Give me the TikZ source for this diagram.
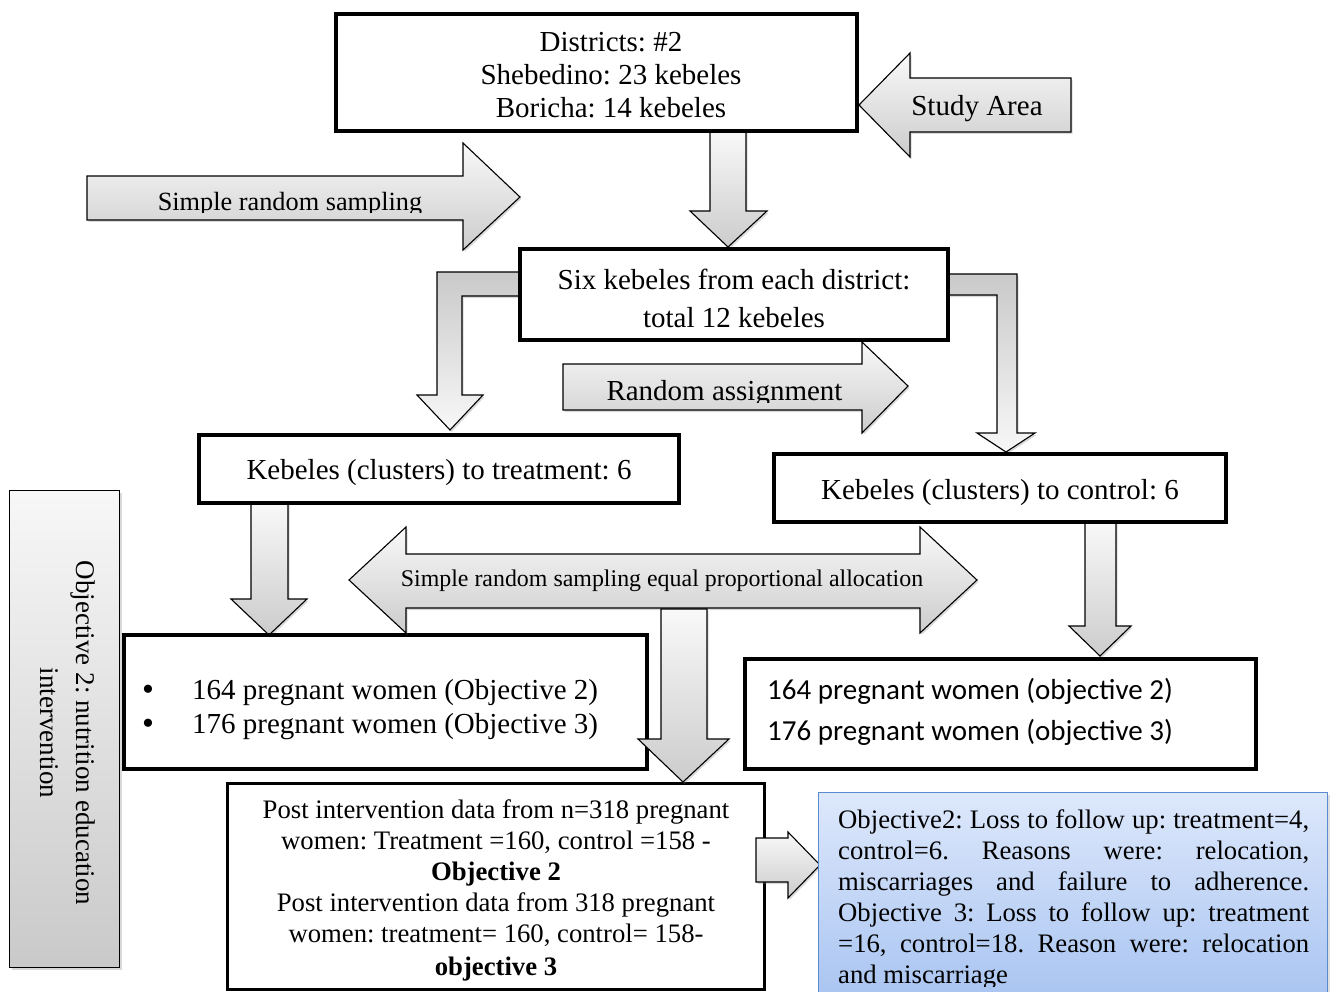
\documentclass[tikz,border=0pt]{standalone}
\usepackage{fontspec}
\setmainfont{Liberation Serif}
\newfontfamily\carlitofont{Carlito}
\usetikzlibrary{shadows}
\definecolor{bluetop}{HTML}{DDE8FB}
\definecolor{bluebot}{HTML}{A7C3F1}
\definecolor{blueedge}{HTML}{5A8AD0}
\frenchspacing
\begin{document}
\frenchspacing
\begin{tikzpicture}[x=1pt,y=-1pt,
  garrow/.style={draw=black, line width=1.1pt, line join=miter, top color=gray!5, bottom color=gray!40,
     drop shadow={shadow xshift=1.5pt, shadow yshift=-2pt, opacity=0.3}},
  garrowr/.style={garrow, top color=gray!42, bottom color=gray!6},
  box/.style={draw=black, line width=4pt, fill=white, inner sep=0pt},
  txt/.style={inner sep=0pt, font=\fontsize{29}{33}\selectfont},
  stxt/.style={inner sep=0pt, font=\fontsize{26.7}{31}\selectfont}
]
\useasboundingbox (0,0) rectangle (1330,992);
\clip (0,0) rectangle (1330,992);

% ---------- block arrows (under the boxes) ----------
% Study Area
\path[garrow] (859,105) -- (910,53) -- (910,78) -- (1071,78) -- (1071,132) -- (910,132) -- (910,157) -- cycle;
\node[txt, anchor=base] (study) at (977,116) {Study Area};
% Simple random sampling
\path[garrow] (87,176) -- (463,176) -- (463,143) -- (520,197) -- (463,250) -- (463,220) -- (87,220) -- cycle;
\begin{scope}
  \clip (87,176) rectangle (463,213);
  \node[txt, font=\fontsize{26.3}{30}\selectfont, anchor=base] (srs) at (290,211) {Simple random sampling};
\end{scope}
% districts -> six kebeles
\path[garrow] (710,131) -- (746,131) -- (746,211) -- (767,211) -- (728,247) -- (690,211) -- (710,211) -- cycle;
% six -> treatment (bent)
\path[garrowr] (520,272) -- (437,272) -- (437,395) -- (417,395) -- (450,430) -- (483,395) -- (462,395) -- (462,296) -- (520,296) -- cycle;
% six -> control (bent)
\path[garrowr] (948,274) -- (1017,274) -- (1017,433) -- (1035,433) -- (1006,452) -- (977,433) -- (997,433) -- (997,295) -- (948,295) -- cycle;
% Random assignment
\path[garrow] (563,364) -- (862,364) -- (862,342) -- (908,386) -- (862,433) -- (862,410) -- (563,410) -- cycle;
\begin{scope}
  \clip (563,364) rectangle (862,402);
  \node[txt, anchor=base] (ra) at (724.5,400) {Random assignment};
\end{scope}
% treatment -> left pregnant
\path[garrow] (251,503) -- (288,503) -- (288,599) -- (307,599) -- (269,635) -- (231,599) -- (251,599) -- cycle;
% control -> right pregnant
\path[garrow] (1085,522) -- (1116,522) -- (1116,626) -- (1131,626) -- (1100,656) -- (1069,626) -- (1085,626) -- cycle;

% ---------- boxes ----------
\node[box, minimum width=521pt, minimum height=117pt] (dist) at (596.5,72.5) {};
\node[txt, align=center, anchor=base] (distT) at (611,118) {Districts: \#2\\Shebedino: 23 kebeles\\Boricha: 14 kebeles};

\node[box, minimum width=428pt, minimum height=91pt] (six) at (734,294.5) {};
\node[txt, align=center, font=\fontsize{29}{38}\selectfont, anchor=base] (sixT) at (734,327) {Six kebeles from each district:\\total 12 kebeles};

\node[box, minimum width=480pt, minimum height=68pt] (treat) at (439,469) {};
\node[txt, anchor=base] (treatT) at (439,479) {Kebeles (clusters) to treatment: 6};

\node[box, minimum width=452pt, minimum height=68pt] (ctrl) at (1000,488) {};
\node[txt, anchor=base] (ctrlT) at (1000,499) {Kebeles (clusters) to control: 6};

\node[box, minimum width=523pt, minimum height=134pt] (preT) at (385.5,702) {};
\node[txt, anchor=base, font=\fontsize{34}{33}\selectfont] (b1) at (148,700) {\textbullet};
\node[txt, anchor=base, font=\fontsize{34}{33}\selectfont] (b2) at (148,734) {\textbullet};
\node[txt, anchor=base west] (p1) at (192,699) {164 pregnant women (Objective 2)};
\node[txt, anchor=base west] (p2) at (192,733) {176 pregnant women (Objective 3)};

\node[box, minimum width=511pt, minimum height=110pt] (preC) at (1000.5,714) {};
\node[txt, font=\carlitofont\fontsize{29}{33}\selectfont, anchor=base west] (c1) at (767,699) {164 pregnant women (objective 2)};
\node[txt, font=\carlitofont\fontsize{29}{33}\selectfont, anchor=base west] (c2) at (767,740) {176 pregnant women (objective 3)};

\node[box, line width=3pt, minimum width=537pt, minimum height=206pt] (post) at (496,886.5) {};
\node[stxt, align=center, anchor=base] (postT) at (496,975) {Post intervention data from n=318 pregnant\\
women: Treatment =160, control =158 -\\
\textbf{Objective 2}\\
Post intervention data from 318 pregnant\\
women: treatment= 160, control= 158-\\[2pt]
\textbf{objective 3}};

% left grey vertical box
\node[draw=black, line width=1.2pt, top color=gray!6, bottom color=gray!42,
      drop shadow={shadow xshift=2pt, shadow yshift=-2pt, opacity=0.3},
      minimum width=110pt, minimum height=477pt, inner sep=0pt] (obj) at (64.5,729) {};
\node[inner sep=0pt, rotate=-90, align=center, font=\fontsize{27}{36}\selectfont] (objT) at (68,733)
  {Objective 2: nutrition education\\intervention};

% ---------- arrows over the boxes ----------
% double arrow
\path[garrow] (349,580) -- (406,527) -- (406,554) -- (920,554) -- (920,527) -- (977,580) -- (920,633) -- (920,608) -- (406,608) -- (406,633) -- cycle;
\node[inner sep=0pt, font=\fontsize{23.9}{28}\selectfont, anchor=base] (srsa) at (662,586) {Simple random sampling equal proportional allocation};
% down to post
\path[garrow] (661,609) -- (707,609) -- (707,739) -- (729,739) -- (683,782) -- (638,739) -- (661,739) -- cycle;
% post -> loss box
\path[garrow] (756,838) -- (788,838) -- (788,832) -- (820,865) -- (788,898) -- (788,882) -- (756,882) -- cycle;

% blue loss box
\node[draw=blueedge, line width=1.2pt, top color=bluetop, bottom color=bluebot,
      drop shadow={shadow xshift=2pt, shadow yshift=-2pt, opacity=0.25},
      minimum width=509pt, minimum height=215pt, inner sep=0pt] (loss) at (1073,900) {};
\begin{scope}
  \clip (818,793) rectangle (1330,986);
  \node[stxt, text width=471pt, align=justify, anchor=north west] (lossT) at (838,809)
  {Objective2: Loss to follow up: treatment=4,\linebreak
   control=6. Reasons were: relocation,\linebreak
   miscarriages and failure to adherence.\linebreak
   Objective 3: Loss to follow up: treatment\linebreak
   =16, control=18. Reason were: relocation\linebreak
   and miscarriage};
\end{scope}
\end{tikzpicture}
\end{document}
